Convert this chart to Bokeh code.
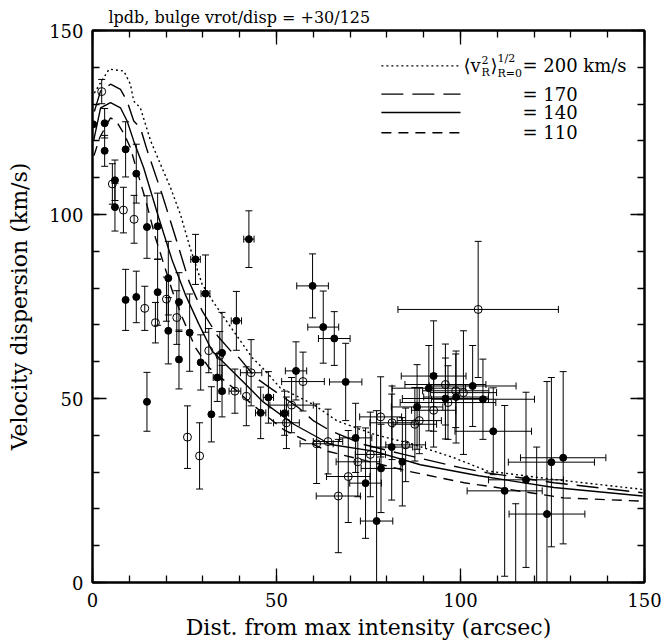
import numpy as np
from bokeh.plotting import figure
from bokeh.models import Range1d, LinearAxis, SingleIntervalTicker, Label
from bokeh.embed import file_html
from bokeh.resources import INLINE

# ---------------- data ----------------
# model curves  <v_R^2>^{1/2}_{R=0} = 200, 170, 140, 110 km/s
c200_x = [0.5, 2.0, 4.5, 8.5, 10.3, 11.2, 13.0, 15.8, 18.5, 21.2, 23.9, 26.5, 29.8, 33.0, 37.0, 43.4, 47.0, 51.0, 60.0, 66.5, 76.4, 87.3, 98.2, 107.3, 125.4, 149.5]
c200_y = [133.0, 135.5, 139.5, 139.0, 135.4, 130.8, 129.0, 120.0, 113.6, 107.3, 100.0, 91.0, 81.0, 76.0, 70.2, 61.1, 57.5, 52.9, 48.4, 43.9, 40.3, 37.5, 33.9, 30.3, 28.0, 25.3]
c170_x = [0.5, 2.2, 4.9, 7.6, 9.4, 10.3, 11.2, 13.0, 14.9, 18.9, 22.6, 26.2, 29.8, 34.0, 37.5, 39.8, 44.3, 46.8, 56.0, 60.1, 64.7, 73.7, 84.6, 100.0, 107.3, 125.4, 149.5]
c170_y = [128.0, 133.6, 135.4, 134.0, 130.8, 128.1, 125.4, 123.6, 117.3, 105.5, 93.7, 81.9, 73.8, 67.0, 63.0, 61.1, 55.7, 53.9, 47.5, 43.9, 41.2, 37.5, 34.8, 31.2, 29.8, 27.1, 24.4]
c140_x = [0.3, 2.2, 4.9, 7.6, 9.4, 11.2, 13.9, 18.0, 21.7, 25.2, 28.9, 32.5, 37.0, 41.6, 46.1, 54.7, 64.7, 76.4, 89.1, 105.0, 125.4, 149.5]
c140_y = [120.0, 129.0, 130.4, 129.0, 125.4, 120.0, 112.7, 99.1, 87.4, 78.3, 70.2, 62.9, 58.4, 53.9, 49.3, 43.0, 37.5, 35.7, 32.0, 29.0, 25.8, 23.5]
c110_x = [0.4, 2.0, 4.9, 6.7, 8.5, 10.3, 11.7, 14.4, 17.1, 21.7, 24.4, 28.0, 31.6, 39.3, 43.4, 52.0, 63.8, 85.5, 101.0, 107.3, 128.0, 149.5]
c110_y = [116.0, 121.0, 126.3, 125.0, 122.0, 118.2, 113.2, 104.1, 93.7, 79.2, 72.0, 63.8, 58.4, 52.0, 48.4, 41.5, 35.7, 30.3, 27.1, 26.2, 23.0, 22.1]

# filled points: position, y error, x error
fill_x = [0.2, 3.3, 3.3, 6.1, 6.1, 9.0, 11.9, 14.8, 17.7, 20.6, 23.5, 17.7, 9.0, 11.9, 20.6, 23.5, 26.4, 28.0, 30.7, 29.4,
          35.2, 33.9, 35.2, 32.3, 14.8, 39.1, 42.5, 45.7, 47.8, 52.2, 55.3, 59.8, 62.7, 65.7, 68.8, 71.5, 74.2, 77.2, 78.4, 81.3,
          84.2, 88.2, 91.4, 92.7, 95.9, 98.8, 103.3, 106.1, 108.9, 112.0, 117.8, 123.5, 124.7, 127.9, 115.0, 120.7]
fill_y = [124.5, 124.8, 117.3, 109.3, 102.0, 117.7, 111.1, 96.6, 96.8, 82.7, 76.2, 78.9, 76.8, 77.6, 68.4, 60.6, 67.9, 87.8, 78.5, 59.8,
          62.4, 55.7, 52.0, 45.7, 49.1, 71.1, 93.3, 46.1, 50.3, 46.0, 57.5, 80.6, 69.4, 66.3, 54.5, 39.3, 27.0, 16.7, 31.0, 36.8,
          32.8, 47.7, 52.8, 56.1, 50.0, 50.4, 53.4, 49.8, 41.1, 24.9, 27.9, 18.6, 32.7, 33.9, -3.0, -4.0]
fill_ye = [0.0, 4.0, 4.2, 5.5, 6.5, 7.5, 8.0, 8.5, 9.0, 10.0, 8.0, 9.0, 8.3, 7.0, 9.0, 8.0, 10.5, 6.8, 10.5, 7.5,
           11.0, 6.5, 7.0, 7.5, 8.0, 8.0, 7.7, 7.0, 7.0, 6.0, 7.9, 8.7, 9.8, 7.3, 10.5, 9.4, 15.0, 30.0, 12.0, 14.4,
           12.0, 11.5, 11.6, 15.0, 11.0, 12.5, 11.0, 10.9, 11.8, 23.2, 23.8, 36.0, 23.0, 23.4, 24.4, 40.8]
fill_xe = [0.0, 0.0, 0.0, 0.0, 0.0, 0.0, 0.0, 0.0, 0.0, 0.0, 0.0, 0.0, 0.0, 0.0, 0.0, 0.0, 0.0, 1.3, 1.2, 0.0,
           0.0, 1.1, 0.0, 0.0, 0.0, 1.4, 1.4, 1.4, 1.4, 1.1, 2.9, 4.3, 4.2, 4.3, 4.4, 4.4, 4.3, 4.4, 5.4, 5.7,
           0.0, 7.0, 10.0, 8.8, 11.7, 8.8, 11.8, 14.0, 10.4, 10.2, 10.2, 10.3, 11.7, 11.6, 0.0, 0.0]

# open points
open_x = [2.5, 5.4, 8.4, 11.3, 14.2, 17.1, 20.1, 22.9, 25.8, 29.1, 31.6, 34.6, 38.7, 41.8, 43.1, 54.1, 57.2, 52.7, 60.9, 64.0,
          66.8, 69.5, 72.1, 75.5, 78.3, 81.4, 85.1, 87.6, 88.8, 92.7, 95.9, 96.6, 98.7, 100.8, 104.8]
open_y = [133.4, 108.3, 101.2, 98.7, 74.5, 70.6, 77.0, 72.0, 39.5, 34.4, 63.0, 61.7, 52.0, 50.6, 57.0, 48.2, 54.6, 43.4, 37.7, 38.3,
          23.5, 28.8, 32.8, 34.8, 45.0, 43.4, 37.4, 43.0, 44.0, 46.8, 53.8, 48.9, 52.1, 51.6, 74.2]
open_ye = [3.3, 5.5, 6.2, 6.5, 6.0, 5.5, 6.0, 7.3, 8.5, 9.0, 6.0, 6.5, 6.0, 8.0, 9.0, 7.5, 8.0, 7.0, 10.8, 8.8,
           15.4, 12.5, 9.5, 11.5, 10.9, 10.0, 10.0, 10.0, 9.0, 10.0, 11.0, 10.0, 10.0, 16.8, 18.5]
open_xe = [0.0, 0.0, 0.0, 0.0, 0.0, 0.0, 0.0, 0.0, 0.0, 0.0, 0.0, 0.0, 1.6, 0.0, 2.9, 5.9, 5.8, 3.5, 4.5, 4.0,
           6.0, 5.9, 5.9, 4.1, 5.7, 6.0, 5.4, 5.9, 6.0, 6.0, 11.0, 13.0, 9.0, 9.0, 21.8]

TITLE = "lpdb, bulge vrot/disp = +30/125"
XLABEL = "Dist. from max intensity (arcsec)"
YLABEL = "Velocity dispersion (km/s)"
LEG_VALUES = ["200 km/s", "170", "140", "110"]
LEG_DASH = ["2 3", "22 9", "solid", "10 7"]

FONT = "DejaVu Serif"

# ---------------- figure ----------------
p = figure(width=662, height=643, x_range=Range1d(0, 150), y_range=Range1d(0, 150),
           output_backend="svg", toolbar_location=None,
           min_border_left=92, min_border_right=18, min_border_top=30, min_border_bottom=61,
           x_axis_label=XLABEL, y_axis_label=YLABEL)
p.grid.visible = False
p.outline_line_color = "black"
p.outline_line_width = 2
p.background_fill_color = "white"
p.border_fill_color = "white"

p.title.text = TITLE
p.title.text_font = FONT
p.title.text_font_size = "16px"
p.title.text_font_style = "normal"
p.title.text_color = "black"
p.title.align = "left"
p.title.offset = 16
p.title.standoff = 8


def style_axis(ax, show_labels):
    ax.ticker = SingleIntervalTicker(interval=50, num_minor_ticks=5)
    ax.major_tick_in = 14
    ax.major_tick_out = 0
    ax.minor_tick_in = 7
    ax.minor_tick_out = 0
    ax.major_tick_line_width = 1.3
    ax.minor_tick_line_width = 1.3
    ax.major_tick_line_color = "black"
    ax.minor_tick_line_color = "black"
    ax.axis_line_width = 2
    ax.axis_line_color = "black"
    if show_labels:
        ax.major_label_text_font = FONT
        ax.major_label_text_font_size = "18px"
        ax.major_label_text_color = "black"
        ax.axis_label_text_font = FONT
        ax.axis_label_text_font_size = "22px"
        ax.axis_label_text_font_style = "normal"
        ax.axis_label_text_color = "black"
    else:
        ax.major_label_text_color = None
        ax.major_label_text_font_size = "1px"
        ax.major_label_standoff = 0


style_axis(p.xaxis[0], True)
style_axis(p.yaxis[0], True)
p.xaxis[0].major_label_standoff = 10
p.xaxis[0].axis_label_standoff = 5
p.yaxis[0].major_label_standoff = 9
p.yaxis[0].axis_label_standoff = 14

top_ax = LinearAxis()
right_ax = LinearAxis()
style_axis(top_ax, False)
style_axis(right_ax, False)
p.add_layout(top_ax, "above")
p.add_layout(right_ax, "right")

# ---------------- model curves ----------------
for cx, cy, dash in [(c200_x, c200_y, LEG_DASH[0]), (c170_x, c170_y, LEG_DASH[1]),
                     (c140_x, c140_y, LEG_DASH[2]), (c110_x, c110_y, LEG_DASH[3])]:
    p.line(cx, cy, line_color="black", line_width=1.4, line_dash=dash)


# ---------------- error bars ----------------
def error_bars(xs, ys, yes, xes):
    xs = np.array(xs); ys = np.array(ys); yes = np.array(yes); xes = np.array(xes)
    m = yes > 0
    p.segment(x0=xs[m], y0=ys[m] - yes[m], x1=xs[m], y1=ys[m] + yes[m], line_color="black", line_width=1)
    p.scatter(np.concatenate([xs[m], xs[m]]), np.concatenate([ys[m] - yes[m], ys[m] + yes[m]]),
              marker="dash", size=7, line_color="black", line_width=1)
    m = xes > 0
    p.segment(x0=xs[m] - xes[m], y0=ys[m], x1=xs[m] + xes[m], y1=ys[m], line_color="black", line_width=1)
    p.scatter(np.concatenate([xs[m] - xes[m], xs[m] + xes[m]]), np.concatenate([ys[m], ys[m]]),
              marker="dash", size=7, angle=np.pi / 2, line_color="black", line_width=1)


error_bars(fill_x, fill_y, fill_ye, fill_xe)
error_bars(open_x, open_y, open_ye, open_xe)

p.scatter(fill_x, fill_y, marker="circle", size=7, fill_color="black", line_color="black")
p.scatter(open_x, open_y, marker="circle", size=8, fill_color=None, line_color="black", line_width=1)

# ---------------- legend (drawn) ----------------
leg_x0, leg_x1 = 78.5, 100.0
leg_rows = [140.4, 132.7, 127.7, 122.2]
leg_text_x = 100.8
for row, dash in zip(leg_rows, LEG_DASH):
    p.line([leg_x0, leg_x1], [row, row], line_color="black", line_width=1.4, line_dash=dash)

pieces = [("\u27e8v", 18, 0, 0), ("2", 11, 18, 6), ("R", 11, 18, -7), ("\u27e9", 18, 27, 0),
          ("1/2", 11, 34, 7), ("R=0", 11, 34, -8)]
for txt, fs, dx, dy in pieces:
    p.add_layout(Label(x=leg_text_x, y=leg_rows[0], x_offset=dx, y_offset=dy, text=txt,
                       text_font=FONT, text_font_size=f"{fs}px", text_baseline="middle", text_color="black"))
for row, val in zip(leg_rows, LEG_VALUES):
    p.add_layout(Label(x=leg_text_x, y=row, x_offset=59, y_offset=0, text="= " + val,
                       text_font=FONT, text_font_size="18px", text_baseline="middle", text_color="black"))

open("out.html", "w").write(file_html(p, INLINE))
